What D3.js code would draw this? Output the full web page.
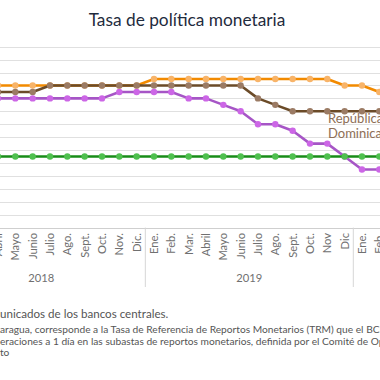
<!DOCTYPE html>
<html>
<head>
<meta charset="utf-8">
<script src="https://cdn.jsdelivr.net/npm/d3@7"></script>
<style>
  html, body { margin: 0; padding: 0; background: #fff; }
  svg { display: block; font-family: Lato, "Open Sans", sans-serif; }
</style>
</head>
<body>
<svg id="chart" width="380" height="380"></svg>
<script>
// ---- data ----
const monthLabels = ["Ene.","Feb.","Mar.","Abril","Mayo","Junio","Julio","Ago.","Sept.","Oct.","Nov.","Dic.",
                     "Ene.","Feb.","Mar.","Abril","Mayo","Junio","Julio","Ago.","Sept.","Oct.","Nov","Dic",
                     "Ene.","Feb."];
const years = ["2018","2019","2020"];
const monthYear = [0,0,0,0,0,0,0,0,0,0,0,0, 1,1,1,1,1,1,1,1,1,1,1,1, 2,2];
// values Jan 2018 .. Feb 2020 (null = outside the visible crop)
const honduras   = [null,null,null,5.5,5.5,5.5,5.5,5.5,5.5,5.5,5.5,5.5, 5.75,5.75,5.75,5.75,5.75,5.75,5.75,5.75,5.75,5.75,5.75,5.5, 5.5,5.25];
const repDom     = [null,null,null,5.25,5.25,5.25,5.5,5.5,5.5,5.5,5.5,5.5, 5.5,5.5,5.5,5.5,5.5,5.5,5.0,4.75,4.5,4.5,4.5,4.5, 4.5,4.5];
const costaRica  = [null,null,null,5.0,5.0,5.0,5.0,5.0,5.0,5.0,5.25,5.25, 5.25,5.25,5.0,5.0,4.75,4.5,4.0,4.0,3.75,3.25,3.25,2.75, 2.25,2.25];
const guatemala  = [null,null,null,2.75,2.75,2.75,2.75,2.75,2.75,2.75,2.75,2.75, 2.75,2.75,2.75,2.75,2.75,2.75,2.75,2.75,2.75,2.75,2.75,2.75, 2.75,2.75];
const yTicks = d3.range(0, 7.01, 0.5);
const titleText = "Tasa de política monetaria";
const seriesLabel = ["República", "Dominicana"];
const footerLines = [
  ["Fuente: elaboración propia con base en com", "unicados de los bancos centrales."],
  ["1/ Para Nic", "aragua, corresponde a la Tasa de Referencia de Reportos Monetarios (TRM) que el BCN utiliza como referencia para sus"],
  ["op", "eraciones a 1 día en las subastas de reportos monetarios, definida por el Comité de Operaciones de Mercado"],
  ["Abier", "to"]
];

const series = [
  {name: "Honduras", values: honduras, line: "#f28a00", dot: "#f8b469"},
  {name: "República Dominicana", values: repDom, line: "#6b4b28", dot: "#9b7b64"},
  {name: "Costa Rica", values: costaRica, line: "#a655c6", dot: "#cc66e6"},
  {name: "Guatemala", values: guatemala, line: "#188c18", dot: "#4fc04f"}
];

// ---- layout ----
const svg = d3.select("#chart");
const idx = d3.range(monthLabels.length);
const x = d3.scalePoint().domain(idx).range([-54.0, 379.3]);
const y = d3.scaleLinear().domain([0, 7]).range([227.6, 46.7]);
const step = x.step();

// title
svg.append("text").attr("x", 187).attr("y", 26).attr("text-anchor", "middle")
  .attr("font-size", 17.3).attr("fill", "#1f2b3d").text(titleText);

// gridlines
svg.append("g").selectAll("line").data(yTicks).join("line")
  .attr("x1", 0).attr("x2", 380)
  .attr("y1", d => Math.round(y(d)) + 0.5).attr("y2", d => Math.round(y(d)) + 0.5)
  .attr("stroke", d => d === 0 ? "#cfcfcf" : "#e0e0e0").attr("stroke-width", 1.2);

// x-axis labels (rotated)
svg.append("g").selectAll("text").data(idx).join("text")
  .attr("transform", i => `translate(${x(i) + 4},233) rotate(-90)`)
  .attr("text-anchor", "end").attr("font-size", 11.2).attr("fill", "#707070")
  .text(i => monthLabels[i]);

// year separators
const sepIdx = idx.filter(i => i > 0 && monthYear[i] !== monthYear[i - 1]);
svg.append("g").selectAll("line").data(sepIdx).join("line")
  .attr("x1", i => x(i) - step / 2).attr("x2", i => x(i) - step / 2)
  .attr("y1", 227.6).attr("y2", 287)
  .attr("stroke", "#d6d6d6").attr("stroke-width", 1);

// year labels, centred on the full 12-month group
svg.append("g").selectAll("text").data(years).join("text")
  .attr("x", (d, k) => x(idx.find(i => monthYear[i] === k)) + 5.5 * step)
  .attr("y", 282).attr("text-anchor", "middle").attr("font-size", 11.2).attr("fill", "#707070")
  .text(d => d);

// lines and markers
const lineGen = d3.line().defined(d => d.v !== null).x(d => x(d.i)).y(d => y(d.v));
series.forEach(s => {
  const pts = s.values.map((v, i) => ({i, v}));
  svg.append("path").datum(pts).attr("d", lineGen)
    .attr("fill", "none").attr("stroke", s.line).attr("stroke-width", 2.6).attr("stroke-linejoin", "round");
  svg.append("g").selectAll("circle").data(pts.filter(d => d.v !== null)).join("circle")
    .attr("cx", d => x(d.i)).attr("cy", d => y(d.v)).attr("r", 3.2).attr("fill", s.dot);
});

// series label
svg.append("g").selectAll("text").data(seriesLabel).join("text")
  .attr("x", 328).attr("y", (d, k) => 122.5 + k * 15.5)
  .attr("font-size", 13).attr("fill", "#8d6e55").text(d => d);

// footer lines (left part cropped off the picture)
const footerY = [318, 332.5, 344.5, 356];
const footerSize = [11.6, 10.2, 10.2, 10.2];
footerLines.forEach((parts, k) => {
  const tmp = svg.append("text").attr("font-size", footerSize[k]).text(parts[0]);
  const w = tmp.node().getComputedTextLength();
  tmp.remove();
  svg.append("text").attr("x", -w).attr("y", footerY[k]).attr("font-size", footerSize[k])
    .attr("fill", "#555").text(parts[0] + parts[1]);
});
</script>
</body>
</html>
